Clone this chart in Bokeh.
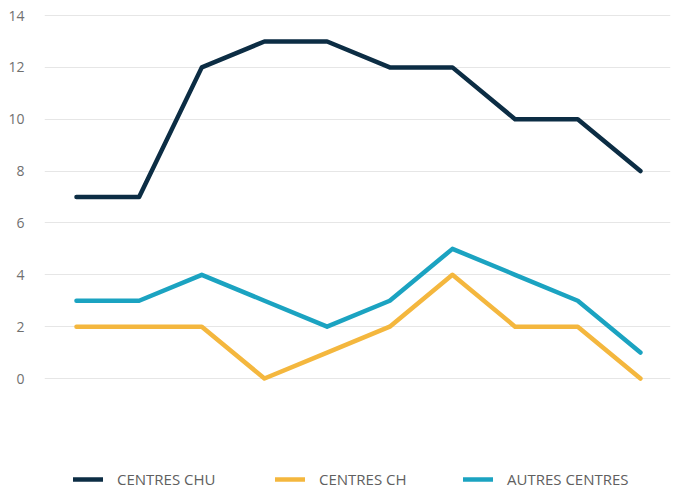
from bokeh.plotting import figure
from bokeh.models import Legend, LegendItem, FixedTicker, Range1d
from bokeh.embed import file_html
from bokeh.resources import INLINE

x_idx = [0, 1, 2, 3, 4, 5, 6, 7, 8, 9]
centres_chu = [7, 7, 12, 13, 13, 12, 12, 10, 10, 8]
centres_ch = [2, 2, 2, 0, 1, 2, 4, 2, 2, 0]
autres_centres = [3, 3, 4, 3, 2, 3, 5, 4, 3, 1]
y_ticks = [0, 2, 4, 6, 8, 10, 12, 14]
labels = ["CENTRES CHU", "CENTRES CH", "AUTRES CENTRES"]
colors = ["#0c2d44", "#f4b73e", "#1ba3c1"]

p = figure(width=678, height=490, output_backend="svg", toolbar_location=None,
           x_range=Range1d(-0.51, 9.48), y_range=Range1d(-4.32, 14.58),
           min_border_left=44, min_border_right=8, min_border_top=0, min_border_bottom=0)
p.outline_line_color = None
p.xaxis.visible = False
p.xgrid.visible = False
p.yaxis.ticker = FixedTicker(ticks=y_ticks)
p.ygrid.ticker = FixedTicker(ticks=y_ticks)
p.ygrid.grid_line_color = "#e6e6e6"
p.ygrid.grid_line_width = 1
p.yaxis.axis_line_color = None
p.yaxis.major_tick_line_color = None
p.yaxis.minor_tick_line_color = None
p.yaxis.major_label_standoff = 14
p.yaxis.major_label_text_font = "Open Sans"
p.yaxis.major_label_text_font_size = "14px"
p.yaxis.major_label_text_color = "#707070"

renderers = []
for ys, c in zip([centres_chu, centres_ch, autres_centres], colors):
    r = p.line(x_idx, ys, line_color=c, line_width=4.5, line_cap="round", line_join="round")
    renderers.append(r)

locs = [(29, 1), (231, 1), (419, 1)]
for lab, r, loc in zip(labels, renderers, locs):
    lg = Legend(items=[LegendItem(label=lab, renderers=[r])], location=loc,
                background_fill_alpha=0, border_line_color=None, padding=0, margin=0,
                glyph_width=30, glyph_height=16, label_standoff=14,
                label_text_font="Open Sans", label_text_font_size="15px",
                label_text_color="#606060")
    p.add_layout(lg, "center")

open("out.html", "w").write(file_html(p, INLINE))
